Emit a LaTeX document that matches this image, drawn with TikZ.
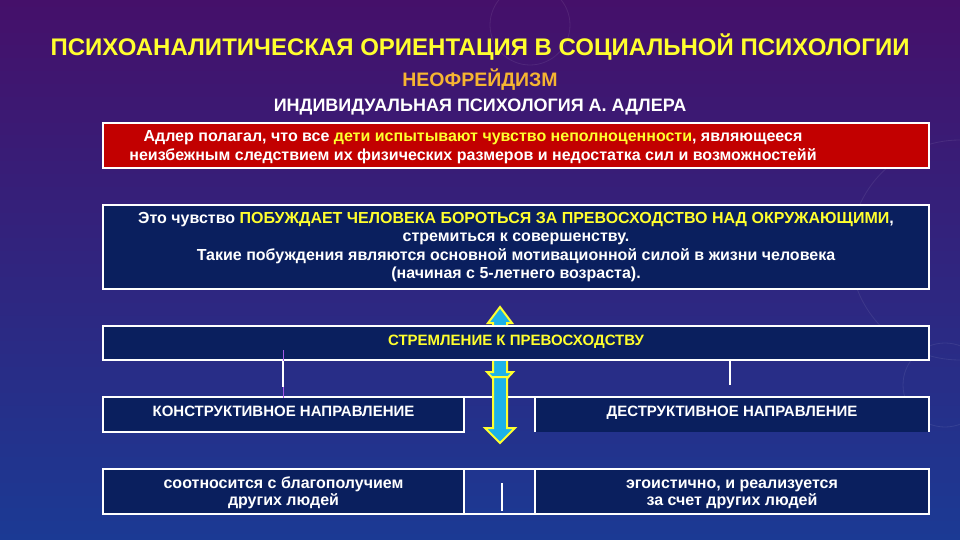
\documentclass[tikz,border=0pt]{standalone}
\usepackage{fontspec}
\setmainfont{Liberation Sans}
\newfontfamily\slidefont{Liberation Sans}
\usetikzlibrary{positioning}
\definecolor{slidetop}{HTML}{45106A}
\definecolor{slidemid}{HTML}{30207E}
\definecolor{slidebottom}{HTML}{1B3A94}
\definecolor{slideyellow}{HTML}{FFFF2E}
\definecolor{slideorange}{HTML}{F6B531}
\definecolor{slidered}{HTML}{C20000}
\definecolor{slidenavy}{HTML}{0A1F5E}
\definecolor{slidecyan}{HTML}{1DB2E8}
\definecolor{slidelilac}{HTML}{A35BE6}
\tikzset{
  slidetitle/.style={font=\slidefont\fontsize{24}{26}\selectfont\bfseries, text=slideyellow},
  slidesub/.style={font=\slidefont\fontsize{19.5}{22}\selectfont\bfseries, text=slideorange},
  slidehead/.style={font=\slidefont\fontsize{18}{20}\selectfont\bfseries, text=white},
  redbox/.style={draw=white, fill=slidered, line width=2pt, inner sep=0pt},
  boxtext/.style={font=\slidefont\fontsize{16}{19}\selectfont\bfseries, text=white,
    align=center, inner sep=0pt},
  navybox/.style={draw=white, fill=slidenavy, line width=2pt, inner sep=0pt,
    font=\slidefont\fontsize{16}{18.5}\selectfont\bfseries, text=white, align=center},
  navycell/.style={fill=slidenavy, inner sep=0pt,
    font=\slidefont\fontsize{16}{17}\selectfont\bfseries, text=white, align=center},
  capsfont/.style={font=\slidefont\fontsize{15}{17}\selectfont\bfseries,
    text height=10.5pt, text depth=6pt},
  pairfont/.style={text height=29pt, text depth=2pt},
  cellrule/.style={draw=white, line width=1.6pt},
  whitelink/.style={draw=white, line width=2.4pt},
  lilaclink/.style={draw=slidelilac, line width=.8pt},
  bigarrow/.style={draw=slideyellow, fill=slidecyan, line width=2pt, line join=miter},
  glow/.style={draw=white, opacity=.08, line width=.8pt}
}
\newcommand{\hl}[1]{\textcolor{slideyellow}{#1}}
\begin{document}
\begin{tikzpicture}[x=1pt,y=-1pt]
  % slide background
  \shade[top color=slidetop, middle color=slidemid, bottom color=slidebottom]
    (0,0) rectangle (960,540);
  \useasboundingbox (0,0) rectangle (960,540);
  \draw[glow] (960,250) circle (110);
  \draw[glow] (945,385) circle (42);
  \draw[glow] (530,25) circle (40);

  % headings
  \node[slidetitle] (title) at (480,47) {ПСИХОАНАЛИТИЧЕСКАЯ ОРИЕНТАЦИЯ В СОЦИАЛЬНОЙ ПСИХОЛОГИИ};
  \node[slidesub] (school) at (480,79.5) {НЕОФРЕЙДИЗМ};
  \node[slidehead] (adler) at (480,107) {ИНДИВИДУАЛЬНАЯ ПСИХОЛОГИЯ А. АДЛЕРА};

  % text boxes
  \node[redbox, minimum width=826, minimum height=45] (inferior) at (516,145.5) {};
  \node[boxtext] (inferiortext) at (473,147)
    {Адлер полагал, что все \hl{дети испытывают чувство неполноценности}, являющееся\\
     неизбежным следствием их физических размеров и недостатка сил и возможностейй};
  \node[navybox, minimum width=826, minimum height=84] (urge) at (516,247)
    {Это чувство \hl{ПОБУЖДАЕТ ЧЕЛОВЕКА БОРОТЬСЯ ЗА ПРЕВОСХОДСТВО НАД ОКРУЖАЮЩИМИ},\\
     стремиться к совершенству.\\
     Такие побуждения являются основной мотивационной силой в жизни человека\\
     (начиная с 5-летнего возраста).};

  % double arrow behind the striving box
  \draw[bigarrow] (500,307) -- (512,323) -- (507,323) -- (507,372) -- (513,372)
    -- (500,386) -- (487,372) -- (493,372) -- (493,323) -- (488,323) -- cycle;
  \node[navybox, capsfont, minimum width=826, minimum height=34, text=slideyellow] (strive) at (516,343)
    {СТРЕМЛЕНИЕ К ПРЕВОСХОДСТВУ};

  % two directions
  \node[navycell, capsfont, minimum width=361, minimum height=35] (cons) at (283.5,414.5)
    {КОНСТРУКТИВНОЕ НАПРАВЛЕНИЕ};
  \node[navycell, capsfont, minimum width=394, minimum height=35] (destr) at (732,414.5)
    {ДЕСТРУКТИВНОЕ НАПРАВЛЕНИЕ};
  \draw[cellrule] (cons.south west) rectangle (cons.north east);
  \draw[cellrule] (cons.north east) -- (destr.north west) -- (destr.north east) -- (destr.south east);
  \draw[cellrule] (destr.north west) -- (destr.south west);
  \draw[bigarrow] (493,377) -- (507,377) -- (507,428) -- (515,428) -- (500,443)
    -- (485,428) -- (493,428) -- cycle;

  \node[navycell, pairfont, minimum width=361, minimum height=45] (consB) at (283.5,491.5)
    {соотносится с благополучием\\ других людей};
  \node[navycell, pairfont, minimum width=394, minimum height=45] (destrB) at (732,491.5)
    {эгоистично, и реализуется\\ за счет других людей};
  \draw[cellrule] (consB.south west) rectangle (destrB.north east);
  \draw[cellrule] (consB.north east) -- (consB.south east);
  \draw[cellrule] (destrB.north west) -- (destrB.south west);

  % connectors
  \coordinate (consend) at (283,387);
  \coordinate (destrend) at (730,385);
  \coordinate (gaptop) at (502,483);
  \coordinate (gapend) at (502,511);
  \draw[lilaclink] (283,350) -- (283,398);
  \draw[whitelink] (strive.south -| consend) -- (consend);
  \draw[whitelink] (strive.south -| destrend) -- (destrend);
  \draw[whitelink] (gaptop) -- (gapend);
\end{tikzpicture}
\end{document}
